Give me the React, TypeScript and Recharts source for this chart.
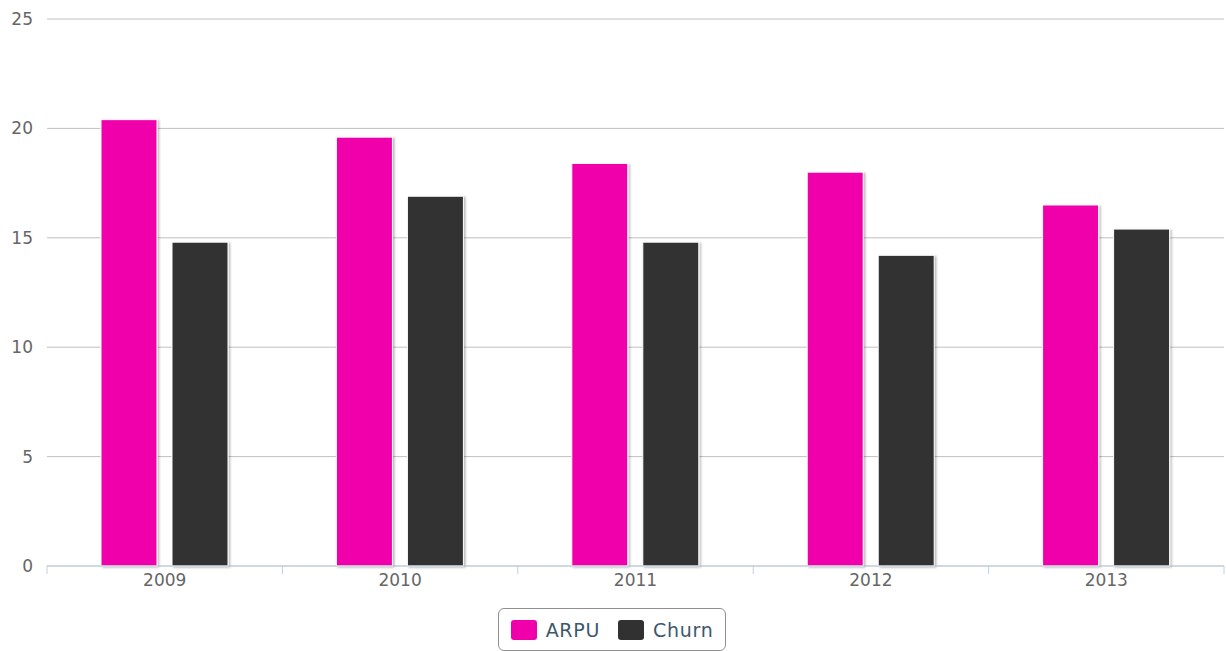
import React from "react";
import { Bar, BarChart, CartesianGrid, Legend, XAxis, YAxis } from "recharts";

const years = ["2009", "2010", "2011", "2012", "2013"];
const arpu = [20.4, 19.6, 18.4, 18.0, 16.5];
const churn = [14.8, 16.9, 14.8, 14.2, 15.4];
const yTicks = [0, 5, 10, 15, 20, 25];

const data = years.map((year, i) => ({ year, ARPU: arpu[i], Churn: churn[i] }));

const W = 1226;
const H = 651;
const PLOT_LEFT = 47;
const PLOT_RIGHT = 2;
const BAND = (W - PLOT_LEFT - PLOT_RIGHT) / years.length;
const FONT = "'DejaVu Sans', Verdana, sans-serif";

const XTick = (props: any) => {
  const { x, y, payload, index } = props;
  const half = BAND / 2;
  return (
    <g>
      {index === 0 && (
        <line x1={x - half} x2={x - half} y1={y - 8} y2={y} stroke="#C0D0E0" strokeWidth={1} />
      )}
      <line x1={x + half} x2={x + half} y1={y - 8} y2={y} stroke="#C0D0E0" strokeWidth={1} />
      <text x={x} y={y} dy="0.71em" textAnchor="middle" fill="#666666" fontSize={17} fontFamily={FONT}>
        {payload.value}
      </text>
    </g>
  );
};

const BarShape = (props: any) => {
  const { x, y, width, height, fill } = props;
  if (!height || height <= 0) return null;
  return (
    <rect
      x={x}
      y={y}
      width={width}
      height={height}
      fill={fill}
      stroke="#FFFFFF"
      strokeWidth={1}
      filter="url(#barShadow)"
    />
  );
};

const LegendBox = (props: any) => {
  const { payload } = props;
  return (
    <div style={{ height: 44, display: "flex", justifyContent: "center" }}>
      <div
        style={{
          marginTop: 1,
          height: 43,
          boxSizing: "border-box",
          border: "1px solid #909090",
          borderRadius: 6,
          display: "flex",
          alignItems: "center",
          padding: "0 12px 0 12px",
          fontFamily: FONT,
          fontSize: 19,
          letterSpacing: 0.7,
          color: "#3E576F",
        }}
      >
        {(payload || []).map((entry: any, i: number) => (
          <div key={entry.value} style={{ display: "flex", alignItems: "center", marginLeft: i === 0 ? 0 : 18 }}>
            <span
              style={{
                display: "inline-block",
                width: 26,
                height: 20,
                borderRadius: 3,
                background: entry.color,
                marginRight: 9,
              }}
            />
            <span>{entry.value}</span>
          </div>
        ))}
      </div>
    </div>
  );
};

export default function App() {
  return (
    <div style={{ position: "absolute", left: 0, top: 0, width: W, height: H, background: "#ffffff" }}>
      <BarChart
        width={W}
        height={H}
        data={data}
        margin={{ top: 19, right: PLOT_RIGHT, left: 0, bottom: 0 }}
        barSize={56}
        barGap={15}
      >
        <defs>
          <filter id="barShadow" x="-10%" y="-10%" width="130%" height="130%">
            <feDropShadow dx={1.5} dy={1} stdDeviation={1} floodColor="#000000" floodOpacity={0.3} />
          </filter>
        </defs>
        <CartesianGrid vertical={false} stroke="#C0C0C0" strokeWidth={1} />
        <XAxis
          dataKey="year"
          height={41}
          axisLine={{ stroke: "#C0D0E0", strokeWidth: 1 }}
          tickLine={false}
          tickSize={6}
          tickMargin={2}
          tick={<XTick />}
          interval={0}
        />
        <YAxis
          width={PLOT_LEFT}
          domain={[0, 25]}
          ticks={yTicks}
          axisLine={false}
          tickLine={false}
          tickSize={12}
          tickMargin={2}
          tick={{ fill: "#666666", fontSize: 17, fontFamily: FONT }}
        />
        <Legend verticalAlign="bottom" height={44} content={<LegendBox />} />
        <Bar dataKey="ARPU" fill="#F000AA" shape={<BarShape />} isAnimationActive={false} />
        <Bar dataKey="Churn" fill="#313131" shape={<BarShape />} isAnimationActive={false} />
      </BarChart>
    </div>
  );
}
